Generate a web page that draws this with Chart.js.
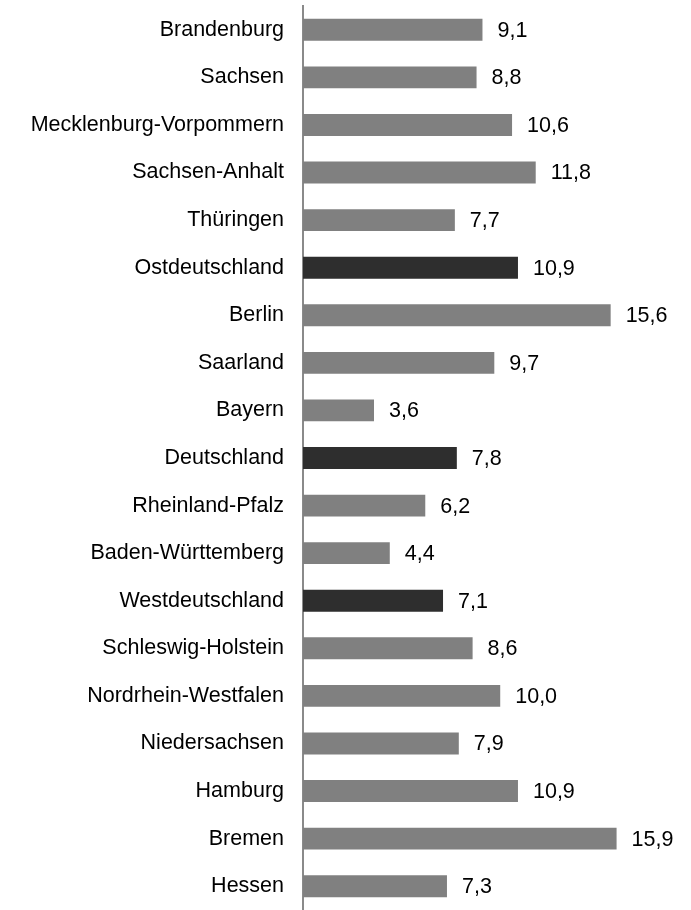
<!DOCTYPE html>
<html>
<head>
<meta charset="utf-8">
<script src="https://cdn.jsdelivr.net/npm/chart.js@4"></script>
<style>
  html, body { margin: 0; padding: 0; background: #fff; overflow: hidden; }
  #wrap { width: 691px; height: 910px; position: relative; }
</style>
</head>
<body>
<div id="wrap"><canvas id="chart"></canvas></div>
<script>
// Anteile je Bundesland, von oben nach unten
const laender = [
  'Brandenburg', 'Sachsen', 'Mecklenburg-Vorpommern', 'Sachsen-Anhalt', 'Thüringen',
  'Ostdeutschland', 'Berlin', 'Saarland', 'Bayern', 'Deutschland',
  'Rheinland-Pfalz', 'Baden-Württemberg', 'Westdeutschland', 'Schleswig-Holstein',
  'Nordrhein-Westfalen', 'Niedersachsen', 'Hamburg', 'Bremen', 'Hessen'
];
const werte = [9.1, 8.8, 10.6, 11.8, 7.7, 10.9, 15.6, 9.7, 3.6, 7.8, 6.2, 4.4, 7.1, 8.6, 10.0, 7.9, 10.9, 15.9, 7.3];
// Aggregate (Ost, West, Gesamt) werden dunkel hervorgehoben
const aggregate = ['Ostdeutschland', 'Deutschland', 'Westdeutschland'];

const GRAU = '#808080';
const DUNKEL = '#2e2e2e';
const FONT = '"Liberation Sans", Arial, sans-serif';

const farben = laender.map(l => aggregate.includes(l) ? DUNKEL : GRAU);

// Zahlen rechts neben den Balken, mit Dezimalkomma
const wertBeschriftung = {
  id: 'wertBeschriftung',
  afterDatasetsDraw(chart) {
    const ctx = chart.ctx;
    const meta = chart.getDatasetMeta(0);
    ctx.save();
    ctx.font = '21.5px ' + FONT;
    ctx.fillStyle = '#000';
    ctx.textAlign = 'left';
    ctx.textBaseline = 'middle';
    meta.data.forEach((bar, i) => {
      const text = werte[i].toFixed(1).replace('.', ',');
      ctx.fillText(text, bar.x + 15, bar.y + 1);
    });
    ctx.restore();
  }
};

new Chart(document.getElementById('chart'), {
  type: 'bar',
  data: {
    labels: laender,
    datasets: [{
      data: werte,
      backgroundColor: farben,
      borderWidth: 0,
      barPercentage: 0.46,
      categoryPercentage: 1.0
    }]
  },
  options: {
    indexAxis: 'y',
    responsive: true,
    maintainAspectRatio: false,
    animation: false,
    layout: { padding: { top: 6, right: 33, bottom: 0, left: 0 } },
    plugins: {
      legend: { display: false },
      tooltip: { enabled: false }
    },
    scales: {
      x: {
        display: false,
        min: 0,
        max: 18
      },
      y: {
        afterFit(scale) {
          scale.width = 303;
          // keine Extra-Abstände oben/unten für die Beschriftungen
          scale.paddingTop = 0;
          scale.paddingBottom = 0;
        },
        grid: { display: false, drawTicks: false },
        border: { display: true, color: '#8a8a8a', width: 2 },
        ticks: {
          padding: 19,
          color: '#000',
          font: { family: FONT, size: 21.5 }
        }
      }
    }
  },
  plugins: [wertBeschriftung]
});
</script>
</body>
</html>
